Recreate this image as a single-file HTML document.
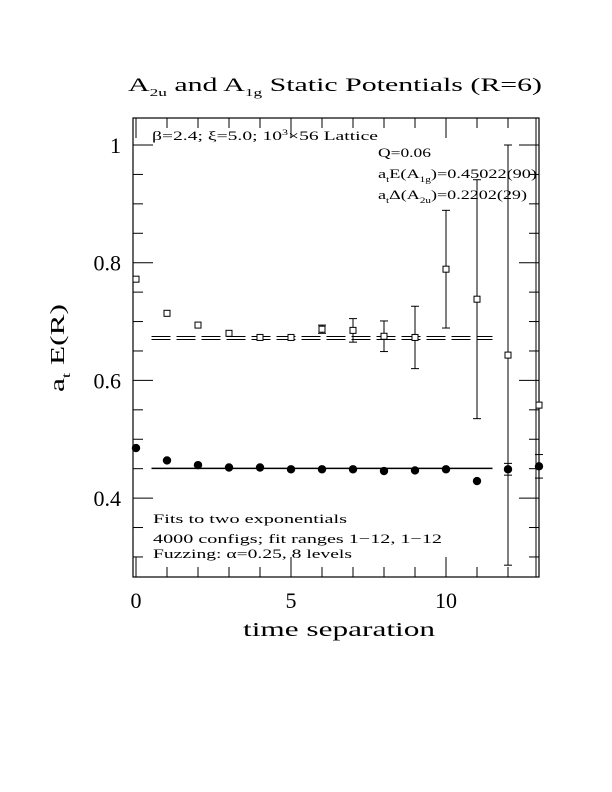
<!DOCTYPE html>
<html><head><meta charset="utf-8"><style>
html,body{margin:0;padding:0;background:#fff}
svg{display:block}
text{font-family:"Liberation Serif",serif;fill:#000}
</style></head><body>
<svg id="chart" width="612" height="792" viewBox="0 0 612 792" xmlns="http://www.w3.org/2000/svg">
<rect width="612" height="792" fill="#fff"/>
<text x="128" y="91" font-size="19" textLength="414" lengthAdjust="spacingAndGlyphs">A<tspan font-size="11" dy="5">2u</tspan><tspan dy="-5"> and A</tspan><tspan font-size="11" dy="5">1g</tspan><tspan dy="-5"> Static Potentials (R=6)</tspan></text>
<g id="axes"></g>
<g id="marks"></g>
<text x="152" y="140" font-size="13" textLength="226" lengthAdjust="spacingAndGlyphs">β=2.4; ξ=5.0; 10<tspan font-size="8" dy="-5">3</tspan><tspan dy="5">×56 Lattice</tspan></text>
<text x="378" y="157" font-size="13" textLength="53" lengthAdjust="spacingAndGlyphs">Q=0.06</text>
<text x="378" y="178" font-size="13" textLength="159" lengthAdjust="spacingAndGlyphs">a<tspan font-size="8" dy="4">t</tspan><tspan dy="-4">E(A</tspan><tspan font-size="8" dy="4">1g</tspan><tspan dy="-4">)=0.45022(90)</tspan></text>
<text x="378" y="199" font-size="13" textLength="149" lengthAdjust="spacingAndGlyphs">a<tspan font-size="8" dy="4">t</tspan><tspan dy="-4">Δ(A</tspan><tspan font-size="8" dy="4">2u</tspan><tspan dy="-4">)=0.2202(29)</tspan></text>
<text x="153" y="523" font-size="13" textLength="194" lengthAdjust="spacingAndGlyphs">Fits to two exponentials</text>
<text x="153" y="543" font-size="13" textLength="289" lengthAdjust="spacingAndGlyphs">4000 configs; fit ranges 1−12, 1−12</text>
<text x="153" y="558" font-size="13" textLength="199" lengthAdjust="spacingAndGlyphs">Fuzzing: α=0.25, 8 levels</text>
<text x="243" y="636" font-size="20" textLength="192" lengthAdjust="spacingAndGlyphs">time separation</text>
<text transform="translate(64,392) rotate(-90)" font-size="20" textLength="88" lengthAdjust="spacingAndGlyphs">a<tspan font-size="12" dy="6">t</tspan><tspan dy="-6"> E(R)</tspan></text>
</svg>
<script>
const tVals=[0,1,2,3,4,5,6,7,8,9,10,11,12,13];
const a2uVals=[0.772,0.714,0.694,0.680,0.673,0.673,0.687,0.685,0.675,0.673,0.789,0.738,0.643,0.558];
const a2uErrs=[0.002,0.002,0.002,0.003,0.003,0.003,0.007,0.02,0.026,0.053,0.1,0.203,0.357,0.5];
const a1gVals=[0.485,0.464,0.456,0.452,0.452,0.449,0.449,0.449,0.446,0.447,0.449,0.429,0.449,0.454];
const a1gErrs=[0.001,0.001,0.001,0.001,0.001,0.001,0.001,0.001,0.001,0.001,0.001,0.003,0.01,0.02];
const fitA2u=0.672, fitA1g=0.4505;
const fitRange=[0.5,11.5];
const xTickLabels=[0,5,10];
const yTickLabels=[0.4,0.6,0.8,1];
const L=133,R=539,T=118,B=577;
const X=t=>136+31*t;
const Y=v=>145+(1-v)*588.5;
const NS="http://www.w3.org/2000/svg";
function mk(tag,attrs,parent){const e=document.createElementNS(NS,tag);for(const k in attrs)e.setAttribute(k,attrs[k]);parent.appendChild(e);return e;}
const ax=document.getElementById('axes'), mg=document.getElementById('marks');
const frame=mk('rect',{x:L,y:T,width:R-L,height:B-T,fill:'none',stroke:'#000','stroke-width':1.2},ax);


const fr2=mk('line',{x1:R-3,x2:R-3,y1:T,y2:B,stroke:'#000','stroke-width':1},ax);


for(let t=0;t<=13;t++){const big=t%5===0;const len=big?20:10;
 const a=mk('line',{x1:X(t),x2:X(t),y1:B,y2:B-len,stroke:'#000'},ax);
 
 
 const b=mk('line',{x1:X(t),x2:X(t),y1:T,y2:T+len,stroke:'#000'},ax);
 
 }
for(let i=6;i<=20;i++){const v=i*0.05;const big=(i%4===0);const len=big?20:10;const y=Y(v);if(y<T||y>B)continue;
 const a=mk('line',{x1:L,x2:L+len,y1:y,y2:y,stroke:'#000'},ax);
 
 
 const b=mk('line',{x1:R,x2:R-len,y1:y,y2:y,stroke:'#000'},ax);
 
 }
xTickLabels.forEach(v=>{const e=mk('text',{x:X(v),y:608,'font-size':22,'text-anchor':'middle'},ax);e.textContent=String(v);
 
 });
yTickLabels.forEach(v=>{const e=mk('text',{x:121,y:Y(v)+8,'font-size':22,'text-anchor':'end'},ax);e.textContent=String(v);
 
 });
[[fitA2u,true],[fitA1g,false]].forEach(([v,dbl])=>{
 const y=Y(v);
 if(dbl){[-1.5,1.5].forEach(d=>{const l=mk('line',{x1:X(fitRange[0]),x2:X(fitRange[1]),y1:y+d,y2:y+d,stroke:'#000','stroke-width':1,'stroke-dasharray':'19,6'},mg);
  
  });}
 else{const l=mk('line',{x1:X(fitRange[0]),x2:X(fitRange[1]),y1:y,y2:y,stroke:'#000','stroke-width':1.6},mg);
  
  }
});
tVals.forEach((t,i)=>{
 const x=X(t);
 let y=Y(a2uVals[i]);
 const e=a2uErrs[i];
 if(e*588.5>4){const l=mk('line',{x1:x,x2:x,y1:Math.max(T,Y(a2uVals[i]+e)),y2:Math.min(B,Y(a2uVals[i]-e)),stroke:'#000'},mg);
  
  
  [a2uVals[i]+e,a2uVals[i]-e].forEach(v=>{const yy=Y(v);if(yy>T&&yy<B){const c=mk('line',{x1:x-4,x2:x+4,y1:yy,y2:yy,stroke:'#000'},mg);
   
   }});}
 const s=mk('rect',{x:x-3,y:y-3,width:6,height:6,fill:'#fff',stroke:'#000','stroke-width':1},mg);
 
 
 y=Y(a1gVals[i]);const e2=a1gErrs[i];
 if(e2*588.5>4){const l=mk('line',{x1:x,x2:x,y1:Y(a1gVals[i]+e2),y2:Y(a1gVals[i]-e2),stroke:'#000'},mg);
  
  
  [a1gVals[i]+e2,a1gVals[i]-e2].forEach(v=>{const c=mk('line',{x1:x-4,x2:x+4,y1:Y(v),y2:Y(v),stroke:'#000'},mg);
   
   });}
 const c=mk('circle',{cx:x,cy:y,r:4.2,fill:'#000'},mg);
 
 
});
</script>
</body></html>
